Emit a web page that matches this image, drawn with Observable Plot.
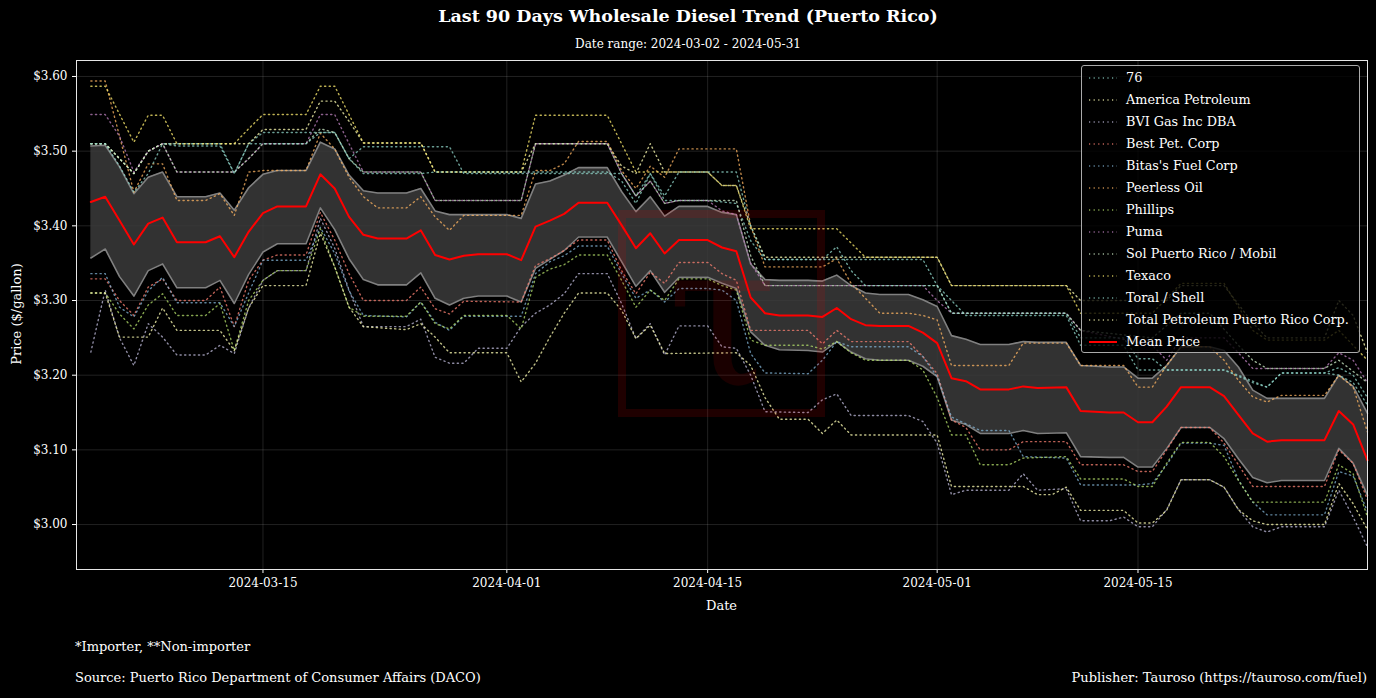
<!DOCTYPE html>
<html><head><meta charset="utf-8">
<script src="https://cdn.jsdelivr.net/npm/d3@7"></script>
<script src="https://cdn.jsdelivr.net/npm/@observablehq/plot@0.6"></script>
<style>
html,body{margin:0;padding:0;background:#000;}
#wrap{position:relative;width:1376px;height:698px;background:#000;color:#fff;font-family:"DejaVu Serif",serif;overflow:hidden;}
.abs{position:absolute;white-space:nowrap;}
#legend{position:absolute;left:1081px;top:65px;width:279px;height:288px;border:1px solid #aaa;border-radius:3px;background:rgba(0,0,0,0.8);box-sizing:border-box;}
.lrow{position:absolute;left:0;height:22px;font-size:12.8px;line-height:22px;}
.lrow svg{position:absolute;left:6px;top:5px;}
.lrow span{position:absolute;left:44px;white-space:nowrap;}
</style></head>
<body><div id="wrap"></div>
<script>
// ---------- data ----------
const seriesNames = ["76","America Petroleum","BVI Gas Inc DBA","Best Pet. Corp","Bitas's Fuel Corp","Peerless Oil","Phillips","Puma","Sol Puerto Rico / Mobil","Texaco","Toral / Shell","Total Petroleum Puerto Rico Corp."];
const seriesColors = ["#8dd3c7","#ffffb3","#bebada","#fb8072","#80b1d3","#fdb462","#b3de69","#bc80bd","#ccebc5","#ffed6f","#8dd3c7","#ffffb3"];

const s76 = [["03-03",3.51],["03-04",3.51],["03-06",3.47],["03-07",3.50],["03-08",3.51],["03-09",3.507],["03-12",3.507],["03-13",3.47],["03-14",3.51],["03-15",3.525],["03-20",3.525],["03-21",3.49],["03-22",3.506],["03-28",3.506],["03-29",3.47],["04-09",3.47],["04-10",3.44],["04-11",3.47],["04-12",3.434],["04-15",3.434],["04-17",3.43],["04-18",3.38],["04-19",3.355],["04-30",3.355],["05-01",3.32],["05-03",3.28],["05-10",3.28],["05-11",3.24],["05-14",3.24],["05-15",3.207],["05-21",3.207],["05-22",3.20],["05-24",3.184],["05-25",3.203],["05-28",3.203],["05-29",3.20],["05-30",3.19],["05-31",3.16]];
const sAmerica = [["03-03",3.51],["03-04",3.51],["03-06",3.47],["03-07",3.50],["03-08",3.51],["03-14",3.51],["03-15",3.529],["03-18",3.529],["03-19",3.567],["03-20",3.567],["03-21",3.54],["03-22",3.511],["03-26",3.511],["03-27",3.472],["04-02",3.472],["04-03",3.51],["04-08",3.51],["04-09",3.48],["04-10",3.47],["04-11",3.51],["04-12",3.472],["04-15",3.472],["04-16",3.454],["04-17",3.454],["04-18",3.40],["04-19",3.358],["05-01",3.358],["05-02",3.32],["05-10",3.32],["05-11",3.30],["05-17",3.30],["05-18",3.32],["05-21",3.32],["05-23",3.27],["05-24",3.25],["05-28",3.25],["05-29",3.30],["05-30",3.28],["05-31",3.23]];
const sBVI = [["03-03",3.231],["03-04",3.314],["03-05",3.25],["03-06",3.213],["03-07",3.269],["03-08",3.251],["03-09",3.227],["03-11",3.227],["03-12",3.24],["03-13",3.229],["03-14",3.29],["03-15",3.327],["03-16",3.34],["03-18",3.34],["03-19",3.41],["03-20",3.37],["03-21",3.314],["03-22",3.265],["03-25",3.265],["03-26",3.275],["03-27",3.224],["03-28",3.216],["03-29",3.216],["03-30",3.236],["04-01",3.236],["04-02",3.265],["04-03",3.283],["04-04",3.294],["04-05",3.309],["04-06",3.336],["04-08",3.336],["04-09",3.296],["04-10",3.249],["04-11",3.269],["04-12",3.227],["04-13",3.266],["04-15",3.266],["04-16",3.238],["04-17",3.236],["04-18",3.20],["04-19",3.151],["04-22",3.15],["04-23",3.167],["04-24",3.175],["04-25",3.146],["04-29",3.146],["04-30",3.138],["05-01",3.109],["05-02",3.04],["05-03",3.046],["05-06",3.046],["05-07",3.068],["05-08",3.046],["05-10",3.048],["05-11",3.005],["05-13",3.005],["05-14",3.01],["05-15",2.997],["05-16",2.997],["05-17",3.02],["05-18",3.06],["05-20",3.06],["05-21",3.05],["05-22",3.02],["05-23",2.997],["05-24",2.99],["05-25",2.997],["05-28",2.997],["05-29",3.046],["05-30",3.01],["05-31",2.97]];
const sBest = [["03-03",3.329],["03-04",3.329],["03-05",3.30],["03-06",3.28],["03-07",3.318],["03-08",3.329],["03-09",3.30],["03-11",3.30],["03-12",3.318],["03-13",3.265],["03-14",3.327],["03-15",3.354],["03-16",3.361],["03-18",3.361],["03-19",3.418],["03-20",3.381],["03-21",3.336],["03-22",3.30],["03-25",3.30],["03-26",3.318],["03-27",3.289],["03-28",3.282],["03-29",3.299],["04-02",3.298],["04-03",3.347],["04-04",3.356],["04-05",3.367],["04-06",3.381],["04-08",3.381],["04-09",3.34],["04-10",3.309],["04-11",3.338],["04-12",3.323],["04-13",3.351],["04-15",3.351],["04-16",3.336],["04-17",3.327],["04-18",3.26],["04-22",3.26],["04-23",3.242],["04-24",3.26],["04-25",3.245],["04-29",3.245],["04-30",3.225],["05-01",3.202],["05-02",3.14],["05-03",3.13],["05-04",3.10],["05-06",3.10],["05-07",3.111],["05-10",3.111],["05-11",3.08],["05-14",3.08],["05-15",3.071],["05-16",3.071],["05-17",3.10],["05-18",3.13],["05-20",3.13],["05-21",3.109],["05-22",3.08],["05-23",3.051],["05-28",3.051],["05-29",3.10],["05-30",3.082],["05-31",3.033]];
const sBitas = [["03-03",3.336],["03-04",3.336],["03-05",3.291],["03-06",3.278],["03-07",3.313],["03-08",3.331],["03-09",3.297],["03-12",3.297],["03-13",3.265],["03-14",3.31],["03-15",3.354],["03-18",3.354],["03-19",3.398],["03-20",3.363],["03-21",3.313],["03-22",3.28],["03-25",3.278],["03-26",3.298],["03-27",3.271],["03-28",3.26],["03-29",3.279],["04-02",3.279],["04-03",3.336],["04-04",3.352],["04-05",3.36],["04-06",3.373],["04-08",3.373],["04-09",3.336],["04-10",3.303],["04-11",3.314],["04-12",3.298],["04-13",3.316],["04-15",3.316],["04-16",3.314],["04-17",3.30],["04-18",3.229],["04-19",3.203],["04-22",3.202],["04-23",3.22],["04-24",3.245],["04-25",3.238],["04-29",3.238],["04-30",3.225],["05-01",3.198],["05-02",3.144],["05-03",3.135],["05-04",3.126],["05-06",3.126],["05-07",3.091],["05-10",3.089],["05-11",3.053],["05-15",3.053],["05-16",3.055],["05-17",3.08],["05-18",3.109],["05-20",3.109],["05-21",3.106],["05-22",3.06],["05-23",3.03],["05-24",3.013],["05-28",3.013],["05-29",3.071],["05-30",3.065],["05-31",3.017]];
const sPeerless = [["03-03",3.594],["03-04",3.594],["03-05",3.52],["03-06",3.445],["03-07",3.483],["03-08",3.483],["03-09",3.434],["03-11",3.434],["03-12",3.443],["03-13",3.414],["03-14",3.472],["03-15",3.474],["03-18",3.474],["03-19",3.524],["03-20",3.503],["03-21",3.465],["03-22",3.439],["03-23",3.424],["03-25",3.424],["03-26",3.439],["03-27",3.412],["03-28",3.394],["03-29",3.414],["04-02",3.414],["04-03",3.474],["04-04",3.474],["04-05",3.483],["04-06",3.513],["04-08",3.513],["04-09",3.474],["04-10",3.45],["04-11",3.48],["04-12",3.465],["04-13",3.503],["04-17",3.503],["04-18",3.40],["04-19",3.345],["04-23",3.345],["04-24",3.356],["04-25",3.323],["04-27",3.283],["04-29",3.283],["04-30",3.28],["05-01",3.274],["05-02",3.213],["05-06",3.213],["05-07",3.243],["05-10",3.243],["05-11",3.213],["05-14",3.213],["05-15",3.184],["05-16",3.184],["05-17",3.213],["05-18",3.238],["05-20",3.238],["05-21",3.22],["05-22",3.193],["05-23",3.171],["05-24",3.164],["05-25",3.173],["05-28",3.173],["05-29",3.20],["05-30",3.184],["05-31",3.124]];
const sPhillips = [["03-03",3.31],["03-04",3.31],["03-05",3.282],["03-06",3.262],["03-07",3.294],["03-08",3.309],["03-09",3.28],["03-11",3.28],["03-12",3.296],["03-13",3.233],["03-14",3.30],["03-15",3.327],["03-16",3.34],["03-18",3.34],["03-19",3.396],["03-20",3.345],["03-21",3.291],["03-22",3.279],["03-25",3.279],["03-26",3.298],["03-27",3.269],["03-28",3.262],["03-29",3.28],["04-01",3.28],["04-02",3.262],["04-03",3.331],["04-04",3.342],["04-05",3.348],["04-06",3.361],["04-08",3.361],["04-09",3.327],["04-10",3.291],["04-11",3.314],["04-12",3.30],["04-13",3.329],["04-15",3.329],["04-16",3.32],["04-17",3.314],["04-18",3.247],["04-19",3.24],["04-22",3.24],["04-23",3.235],["04-24",3.245],["04-25",3.23],["04-26",3.22],["04-29",3.22],["04-30",3.207],["05-01",3.17],["05-02",3.12],["05-03",3.12],["05-04",3.08],["05-06",3.08],["05-07",3.089],["05-10",3.091],["05-11",3.061],["05-14",3.061],["05-15",3.051],["05-16",3.051],["05-17",3.082],["05-18",3.11],["05-20",3.11],["05-21",3.091],["05-22",3.059],["05-23",3.03],["05-28",3.03],["05-29",3.08],["05-30",3.068],["05-31",3.01]];
const sPuma = [["03-03",3.549],["03-04",3.549],["03-05",3.52],["03-06",3.472],["03-07",3.50],["03-08",3.51],["03-09",3.472],["03-13",3.472],["03-14",3.49],["03-15",3.51],["03-18",3.51],["03-19",3.549],["03-20",3.549],["03-21",3.51],["03-22",3.472],["03-26",3.472],["03-27",3.434],["04-02",3.434],["04-03",3.51],["04-08",3.51],["04-09",3.47],["04-10",3.44],["04-11",3.46],["04-12",3.43],["04-13",3.434],["04-15",3.434],["04-16",3.42],["04-17",3.415],["04-18",3.35],["04-19",3.32],["04-30",3.32],["05-01",3.30],["05-02",3.283],["05-10",3.283],["05-11",3.26],["05-16",3.24],["05-17",3.22],["05-18",3.25],["05-21",3.25],["05-22",3.23],["05-23",3.209],["05-28",3.209],["05-29",3.23],["05-30",3.22],["05-31",3.19]];
const sSol = [["03-03",3.51],["03-04",3.51],["03-06",3.47],["03-07",3.50],["03-08",3.51],["03-09",3.472],["03-13",3.472],["03-14",3.49],["03-15",3.51],["03-18",3.51],["03-19",3.53],["03-20",3.525],["03-21",3.49],["03-22",3.472],["03-26",3.472],["03-27",3.434],["04-02",3.434],["04-03",3.51],["04-08",3.51],["04-09",3.47],["04-10",3.44],["04-11",3.46],["04-12",3.43],["04-13",3.434],["04-17",3.434],["04-18",3.36],["04-19",3.32],["05-01",3.32],["05-02",3.283],["05-10",3.283],["05-11",3.26],["05-16",3.25],["05-18",3.283],["05-20",3.283],["05-22",3.24],["05-23",3.22],["05-24",3.209],["05-28",3.209],["05-29",3.22],["05-31",3.19]];
const sTexaco = [["03-03",3.587],["03-04",3.587],["03-06",3.512],["03-07",3.548],["03-08",3.548],["03-09",3.51],["03-13",3.51],["03-14",3.53],["03-15",3.549],["03-18",3.549],["03-19",3.587],["03-20",3.587],["03-22",3.511],["03-26",3.511],["03-27",3.472],["04-02",3.472],["04-03",3.548],["04-08",3.548],["04-09",3.51],["04-10",3.472],["04-15",3.472],["04-16",3.454],["04-17",3.454],["04-18",3.396],["04-24",3.396],["04-26",3.358],["05-01",3.358],["05-02",3.32],["05-10",3.32],["05-11",3.283],["05-16",3.283],["05-18",3.323],["05-21",3.323],["05-23",3.26],["05-24",3.247],["05-28",3.247],["05-29",3.26],["05-31",3.22]];
const sToral = [["03-03",3.51],["03-04",3.51],["03-05",3.48],["03-06",3.445],["03-07",3.47],["03-08",3.51],["03-12",3.51],["03-13",3.47],["03-14",3.51],["03-18",3.51],["03-19",3.525],["03-20",3.525],["03-21",3.49],["03-22",3.47],["03-26",3.47],["03-27",3.472],["04-08",3.472],["04-09",3.46],["04-10",3.43],["04-11",3.47],["04-12",3.44],["04-13",3.472],["04-17",3.472],["04-18",3.40],["04-19",3.355],["04-23",3.355],["04-24",3.372],["04-25",3.34],["04-26",3.32],["05-01",3.32],["05-02",3.283],["05-10",3.283],["05-11",3.25],["05-14",3.25],["05-15",3.222],["05-16",3.222],["05-17",3.207],["05-21",3.207],["05-23",3.19],["05-24",3.184],["05-25",3.203],["05-28",3.203],["05-29",3.21],["05-30",3.20],["05-31",3.17]];
const sTotal = [["03-03",3.31],["03-04",3.31],["03-05",3.251],["03-07",3.251],["03-08",3.29],["03-09",3.26],["03-12",3.26],["03-13",3.233],["03-14",3.29],["03-15",3.32],["03-18",3.32],["03-19",3.39],["03-20",3.345],["03-21",3.291],["03-22",3.265],["03-25",3.261],["03-26",3.269],["03-27",3.251],["03-28",3.23],["04-01",3.23],["04-02",3.191],["04-03",3.216],["04-04",3.251],["04-05",3.283],["04-06",3.31],["04-08",3.31],["04-09",3.287],["04-10",3.249],["04-11",3.267],["04-12",3.229],["04-17",3.23],["04-18",3.213],["04-19",3.17],["04-20",3.141],["04-22",3.141],["04-23",3.122],["04-24",3.14],["04-25",3.12],["05-01",3.12],["05-02",3.051],["05-07",3.051],["05-08",3.04],["05-09",3.04],["05-10",3.05],["05-11",3.019],["05-14",3.019],["05-15",3.002],["05-16",3.002],["05-17",3.019],["05-18",3.06],["05-20",3.06],["05-21",3.05],["05-22",3.02],["05-23",3.005],["05-24",3.00],["05-28",3.00],["05-29",3.055],["05-30",3.028],["05-31",2.993]];
const seriesData = [s76,sAmerica,sBVI,sBest,sBitas,sPeerless,sPhillips,sPuma,sSol,sTexaco,sToral,sTotal];

const bandDays = ["03-03","03-04","03-05","03-06","03-07","03-08","03-09","03-11","03-12","03-13","03-14","03-15","03-16","03-18","03-19","03-20","03-21","03-22","03-23","03-25","03-26","03-27","03-28","03-29","03-30",
"04-01","04-02","04-03","04-04","04-05","04-06","04-08","04-09","04-10","04-11","04-12","04-13","04-15","04-16","04-17","04-18","04-19","04-20","04-22","04-23","04-24","04-25","04-26","04-27","04-29","04-30",
"05-01","05-02","05-03","05-04","05-06","05-07","05-08","05-10","05-11","05-13","05-14","05-15","05-16","05-17","05-18","05-20","05-21","05-22","05-23","05-24","05-25","05-28","05-29","05-30","05-31"];
const meanPrice = [3.432,3.439,3.407,3.375,3.403,3.411,3.378,3.378,3.386,3.358,3.392,3.417,3.426,3.426,3.469,3.450,3.412,3.388,3.383,3.383,3.394,3.361,3.355,3.360,3.362,
3.362,3.354,3.399,3.407,3.416,3.431,3.431,3.401,3.370,3.390,3.363,3.381,3.381,3.371,3.366,3.304,3.283,3.280,3.280,3.278,3.290,3.275,3.267,3.266,3.266,3.257,
3.243,3.196,3.192,3.181,3.181,3.185,3.183,3.184,3.152,3.150,3.150,3.137,3.137,3.158,3.184,3.184,3.172,3.147,3.122,3.111,3.113,3.113,3.152,3.134,3.086];
const bandUpper = [3.507,3.508,3.479,3.443,3.465,3.472,3.439,3.439,3.444,3.421,3.451,3.469,3.474,3.474,3.512,3.503,3.468,3.447,3.444,3.444,3.450,3.420,3.415,3.415,3.415,
3.415,3.410,3.456,3.460,3.468,3.478,3.478,3.446,3.419,3.439,3.413,3.426,3.426,3.418,3.415,3.349,3.328,3.327,3.327,3.326,3.334,3.320,3.310,3.308,3.308,3.301,
3.292,3.253,3.248,3.241,3.241,3.245,3.244,3.244,3.213,3.211,3.211,3.196,3.196,3.213,3.238,3.238,3.233,3.211,3.180,3.169,3.169,3.169,3.200,3.185,3.149];
const bandLower = [3.357,3.369,3.332,3.306,3.340,3.349,3.317,3.317,3.327,3.296,3.335,3.365,3.376,3.376,3.424,3.395,3.356,3.328,3.321,3.321,3.337,3.303,3.294,3.303,3.306,
3.306,3.298,3.343,3.355,3.367,3.385,3.385,3.352,3.319,3.340,3.311,3.331,3.331,3.323,3.316,3.258,3.240,3.234,3.233,3.231,3.245,3.231,3.222,3.220,3.220,3.212,
3.198,3.140,3.134,3.122,3.122,3.126,3.122,3.123,3.091,3.090,3.090,3.077,3.077,3.102,3.130,3.130,3.115,3.088,3.063,3.056,3.059,3.059,3.102,3.082,3.039];

const xTickDates = ["2024-03-15","2024-04-01","2024-04-15","2024-05-01","2024-05-15"];
const yTickValues = [3.00,3.10,3.20,3.30,3.40,3.50,3.60];

// ---------- build ----------
const toDate = md => new Date("2024-" + md + "T00:00:00Z");
const rows = [];
seriesData.forEach((arr, i) => arr.forEach(([d, v]) => rows.push({series: seriesNames[i], color: seriesColors[i], date: toDate(d), price: v})));
const band = bandDays.map((d, i) => ({date: toDate(d), mean: meanPrice[i], upper: bandUpper[i], lower: bandLower[i]}));
const xTicks = xTickDates.map(s => new Date(s + "T00:00:00Z"));

const chart = Plot.plot({
  width: 1376, height: 620,
  marginTop: 60, marginBottom: 51, marginLeft: 76, marginRight: 9,
  style: {background: "transparent", color: "#fff", fontFamily: "DejaVu Serif", fontSize: "12px", overflow: "visible"},
  x: {type: "utc", domain: [toDate("03-02"), toDate("05-31")]},
  y: {domain: [2.9398, 3.6214]},
  color: {type: "identity"},
  marks: [
    Plot.gridX(xTicks, {stroke: "#fff", strokeOpacity: 0.13}),
    Plot.gridY(yTickValues, {stroke: "#fff", strokeOpacity: 0.13}),
    Plot.areaY(band, {x: "date", y1: "lower", y2: "upper", fill: "#3b3b3b", fillOpacity: 0.85}),
    Plot.lineY(band, {x: "date", y: "upper", stroke: "#808080", strokeWidth: 1.6}),
    Plot.lineY(band, {x: "date", y: "lower", stroke: "#808080", strokeWidth: 1.6}),
    Plot.line(rows, {x: "date", y: "price", z: "series", stroke: "color", strokeWidth: 1.4, strokeDasharray: "1.2,3.4", strokeOpacity: 0.75}),
    Plot.lineY(band, {x: "date", y: "mean", stroke: "#ff0000", strokeWidth: 2}),
    Plot.axisX({ticks: xTicks, tickFormat: d3.utcFormat("%Y-%m-%d"), tickSize: 4, tickPadding: 5, label: null}),
    Plot.axisY({ticks: yTickValues, tickFormat: d => "$" + d.toFixed(2), tickSize: 4, tickPadding: 5, label: null}),
    Plot.frame({stroke: "#e6e6e6", strokeWidth: 1})
  ]
});
chart.style.position = "absolute";
chart.style.left = "0px";
chart.style.top = "0px";

const wrap = document.getElementById("wrap");
wrap.appendChild(chart);

// watermark logo (faint)
const ns = "http://www.w3.org/2000/svg";
const wm = document.createElementNS(ns, "svg");
wm.setAttribute("width", 1376); wm.setAttribute("height", 698);
wm.style.position = "absolute"; wm.style.left = "0"; wm.style.top = "0"; wm.style.pointerEvents = "none";
wm.innerHTML = '<rect x="622" y="214" width="199" height="199" fill="none" stroke="rgba(255,0,0,0.12)" stroke-width="8"/>' +
  '<text x="722" y="385" text-anchor="middle" font-family="DejaVu Serif" font-size="200" fill="rgba(255,0,0,0.10)">τ</text>';
wrap.appendChild(wm);

function addText(txt, css) {
  const d = document.createElement("div");
  d.className = "abs"; d.textContent = txt;
  Object.assign(d.style, css);
  wrap.appendChild(d);
  return d;
}
addText("Last 90 Days Wholesale Diesel Trend (Puerto Rico)", {left: "0", width: "1376px", textAlign: "center", top: "6px", fontSize: "17.5px", fontWeight: "bold"});
addText("Date range: 2024-03-02 - 2024-05-31", {left: "0", width: "1376px", textAlign: "center", top: "37px", fontSize: "12px"});
addText("Date", {left: "76px", width: "1291px", textAlign: "center", top: "598px", fontSize: "13px"});
addText("Price ($/gallon)", {left: "16px", top: "314px", fontSize: "13px", transform: "translate(-50%,-50%) rotate(-90deg)"});
addText("*Importer, **Non-importer", {left: "75px", top: "639px", fontSize: "13px"});
addText("Source: Puerto Rico Department of Consumer Affairs (DACO)", {left: "75px", top: "670px", fontSize: "13px"});
addText("Publisher: Tauroso (https://tauroso.com/fuel)", {right: "9px", top: "670px", fontSize: "13px"});

// legend
const legend = document.createElement("div");
legend.id = "legend";
const entries = seriesNames.map((n, i) => ({name: n, color: seriesColors[i], mean: false})).concat([{name: "Mean Price", color: "#ff0000", mean: true}]);
entries.forEach((e, i) => {
  const r = document.createElement("div");
  r.className = "lrow";
  r.style.top = (1 + i * 22) + "px";
  const dash = e.mean ? "" : 'stroke-dasharray="1.2,3.4" stroke-opacity="0.75"';
  r.innerHTML = '<svg width="30" height="12"><line x1="1" y1="6" x2="29" y2="6" stroke="' + e.color + '" stroke-width="' + (e.mean ? 2 : 1.4) + '" ' + dash + '/></svg>';
  const sp = document.createElement("span");
  sp.textContent = e.name;
  r.appendChild(sp);
  legend.appendChild(r);
});
wrap.appendChild(legend);
</script></body></html>
